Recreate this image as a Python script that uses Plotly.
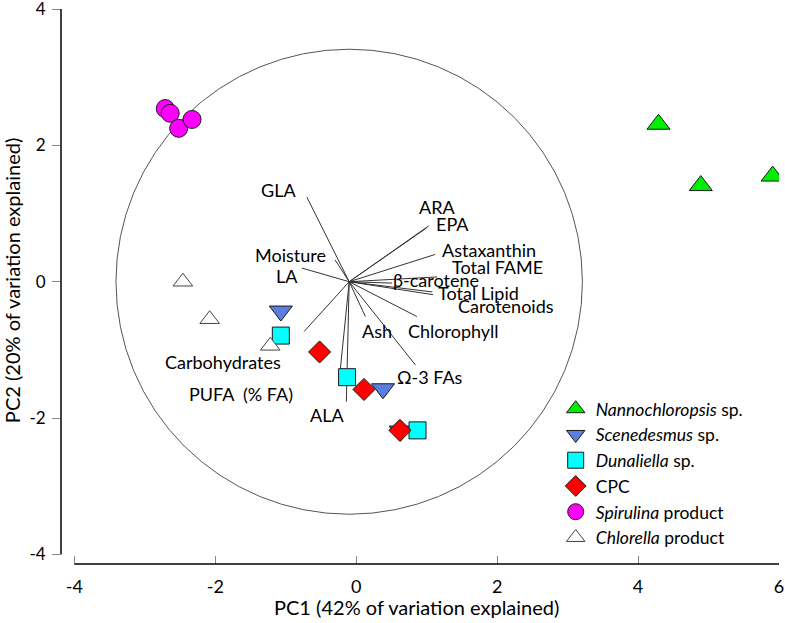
import plotly.graph_objects as go

# ---------------- sample scores (PC1, PC2) ----------------
nanno_x = [4.29, 4.89, 5.91]
nanno_y = [2.31, 1.41, 1.55]
scen_x = [-1.07, 0.38, 0.63]
scen_y = [-0.43, -1.57, -2.19]
dun_x = [-1.07, -0.13, 0.87]
dun_y = [-0.79, -1.40, -2.18]
cpc_x = [-0.52, 0.11, 0.62]
cpc_y = [-1.03, -1.58, -2.18]
spir_x = [-2.71, -2.64, -2.52, -2.33]
spir_y = [2.54, 2.47, 2.25, 2.38]
chlo_x = [-2.46, -2.08, -1.22]
chlo_y = [0.00, -0.55, -0.94]

# ---------------- variable vectors (loadings, plotted from circle centre) ----------------
vec_names = ["GLA", "Moisture", "LA", "ARA", "EPA", "Astaxanthin", "Total FAME",
             "β-carotene", "Total Lipid", "Carotenoids", "Chlorophyll", "Ash",
             "Ω-3 FAs", "ALA", "PUFA  (% FA)", "Carbohydrates"]
vec_dx = [-0.60, -0.20, -0.67, 1.13, 1.10, 1.22, 1.25, 0.61, 1.18, 1.19, 0.96, 0.23,
          0.94, -0.04, -0.14, -0.64]
vec_dy = [1.24, 0.32, 0.20, 0.82, 0.79, 0.40, 0.07, -0.02, -0.15, -0.19, -0.51, -0.51,
          -1.22, -1.76, -1.43, -0.73]

# label placement (data coordinates)
lab_x = [-1.10, -0.94, -0.98, 1.15, 1.36, 1.88, 2.00, 1.13, 1.74, 2.12, 1.38, 0.30,
         1.05, -0.42, -1.64, -1.89]
lab_y = [1.34, 0.39, 0.08, 1.10, 0.85, 0.46, 0.21, 0.03, -0.17, -0.36, -0.72, -0.72,
         -1.39, -1.96, -1.64, -1.18]

x_ticks = [-4, -2, 0, 2, 4, 6]
y_ticks = [-4, -2, 0, 2, 4]

cx, cy = -0.10, 0.0          # circle / vector origin
rx, ry = 3.31, 3.41          # circle radius in x and y units

FONT = "Lato, 'Open Sans', sans-serif"

fig = go.Figure()

# vectors
vx, vy = [], []
for dx, dy in zip(vec_dx, vec_dy):
    vx += [cx, cx + dx, None]
    vy += [cy, cy + dy, None]
fig.add_trace(go.Scatter(x=vx, y=vy, mode="lines", line=dict(color="#333333", width=1),
                         showlegend=False, hoverinfo="skip"))

edge = dict(color="#1a1a1a", width=1)
fig.add_trace(go.Scatter(x=nanno_x, y=nanno_y, mode="markers", name="<i>Nannochloropsis</i> sp.",
                         marker=dict(symbol="triangle-up", size=20, color="#00EE00", line=edge)))
fig.add_trace(go.Scatter(x=scen_x, y=scen_y, mode="markers", name="<i>Scenedesmus</i> sp.",
                         marker=dict(symbol="triangle-down", size=20, color="#5A7FE0", line=edge)))
fig.add_trace(go.Scatter(x=dun_x, y=dun_y, mode="markers", name="<i>Dunaliella</i> sp.",
                         marker=dict(symbol="square", size=17, color="#00FFFF", line=edge)))
fig.add_trace(go.Scatter(x=cpc_x, y=cpc_y, mode="markers", name="CPC",
                         marker=dict(symbol="diamond", size=17, color="#FF0000", line=edge)))
fig.add_trace(go.Scatter(x=spir_x, y=spir_y, mode="markers", name="<i>Spirulina</i> product",
                         marker=dict(symbol="circle", size=18, color="#FF00FF", line=edge)))
fig.add_trace(go.Scatter(x=chlo_x, y=chlo_y, mode="markers", name="<i>Chlorella</i> product",
                         marker=dict(symbol="triangle-up", size=17, color="white",
                                     line=dict(color="#444444", width=1))))

shapes = [
    dict(type="circle", xref="x", yref="y", x0=cx - rx, x1=cx + rx, y0=cy - ry, y1=cy + ry,
         line=dict(color="#555555", width=1), layer="below"),
    # x axis line
    dict(type="line", xref="x", yref="paper", x0=x_ticks[0], x1=x_ticks[-1], y0=0, y1=0,
         line=dict(color="black", width=1.5)),
    # y axis line
    dict(type="line", xref="paper", yref="y", x0=0, x1=0, y0=y_ticks[0], y1=y_ticks[-1],
         line=dict(color="black", width=1.5)),
]

annotations = []
for name, x, y in zip(vec_names, lab_x, lab_y):
    annotations.append(dict(x=x, y=y, xref="x", yref="y", text=name, showarrow=False,
                            font=dict(family=FONT, size=18, color="black"),
                            xanchor="center", yanchor="middle"))
annotations.append(dict(x=0.495, y=-0.077, xref="paper", yref="paper",
                        text="PC1 (42% of variation explained)", showarrow=False,
                        font=dict(family=FONT, size=20, color="black"),
                        xanchor="center", yanchor="middle"))
annotations.append(dict(x=-0.068, y=0.51, xref="paper", yref="paper", textangle=-90,
                        text="PC2 (20% of variation explained)", showarrow=False,
                        font=dict(family=FONT, size=20, color="black"),
                        xanchor="center", yanchor="middle"))

fig.update_layout(
    width=785, height=623,
    margin=dict(l=61, r=6, t=9, b=59, autoexpand=False),
    paper_bgcolor="white", plot_bgcolor="white",
    font=dict(family=FONT, size=17, color="black"),
    xaxis=dict(range=[-4.19, 6], tickvals=x_ticks, ticktext=[str(v) for v in x_ticks],
               showgrid=False, zeroline=False, showline=False,
               ticks="inside", ticklen=8, tickwidth=1, tickcolor="#888888",
               ticklabelstandoff=10, ticklabeloverflow="allow", tickfont=dict(size=18)),
    yaxis=dict(range=[-4.14, 4], tickvals=y_ticks, ticktext=[str(v) for v in y_ticks],
               showgrid=False, zeroline=False, showline=False,
               ticks="outside", ticklen=8, tickwidth=1, tickcolor="#888888",
               ticklabelstandoff=3, ticklabeloverflow="allow", tickfont=dict(size=17)),
    legend=dict(x=0.689, y=0.312, xanchor="left", yanchor="top",
                bgcolor="rgba(0,0,0,0)", borderwidth=0,
                font=dict(family=FONT, size=17.5, color="black"),
                tracegroupgap=0, traceorder="normal", itemsizing="trace"),
    shapes=shapes,
    annotations=annotations,
)

fig.write_html("out.html", config={"displayModeBar": False},
               post_script="document.body.style.margin='0';")
